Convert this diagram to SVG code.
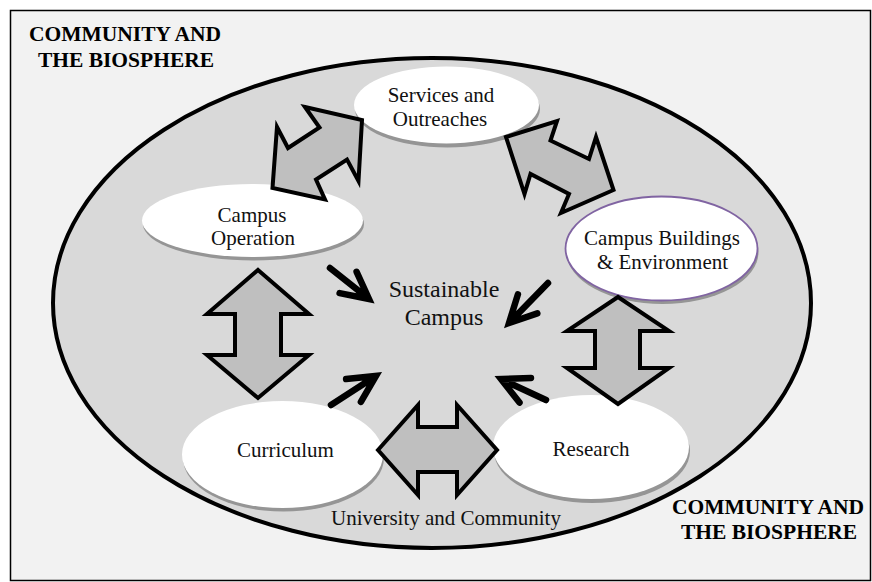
<svg xmlns="http://www.w3.org/2000/svg" width="872" height="582" viewBox="0 0 872 582">
  <style>
    .bg { fill: #f2f2f2; stroke: #000; stroke-width: 1.5; }
    .world { fill: #d9d9d9; stroke: #000; stroke-width: 4; }
    .node { fill: #ffffff; stroke: none; }
    .shadow { fill: #959595; }
    .purple { stroke: #8064a2; stroke-width: 1.8; }
    .block { fill: #bfbfbf; stroke: #000; stroke-width: 4; stroke-linejoin: miter; stroke-miterlimit: 10; }
    .thin { fill: none; stroke: #000; stroke-width: 6.5; stroke-linecap: round; stroke-linejoin: miter; stroke-miterlimit: 10; }
    .label { font-family: "Liberation Serif", "Times New Roman", serif; font-size: 21px; fill: #111; text-anchor: middle; }
    .center { font-family: "Liberation Serif", "Times New Roman", serif; font-size: 24px; fill: #111; text-anchor: middle; }
    .bold { font-family: "Liberation Serif", "Times New Roman", serif; font-size: 21.5px; font-weight: bold; fill: #000; text-anchor: middle; }
  </style>

  <g id="background">
    <rect class="bg" x="10.5" y="10.5" width="860" height="570"/>
    <text class="bold" x="125" y="41">COMMUNITY AND</text>
    <text class="bold" x="126" y="67">THE BIOSPHERE</text>
    <text class="bold" x="768" y="514">COMMUNITY AND</text>
    <text class="bold" x="769" y="539">THE BIOSPHERE</text>
  </g>

  <g id="university-community">
    <ellipse class="world" cx="432" cy="303" rx="379" ry="245"/>
    <text class="label" x="446" y="525">University and Community</text>
  </g>

  <g id="sustainable-campus">
    <text class="center" x="444" y="297">Sustainable</text>
    <text class="center" x="444" y="325">Campus</text>
  </g>

  <g id="services-outreaches">
    <ellipse class="shadow" cx="447.5" cy="109" rx="92.5" ry="38.5"/>
    <ellipse class="node" cx="446.5" cy="105" rx="92.5" ry="38.5"/>
    <text class="label" x="441" y="102">Services and</text>
    <text class="label" x="440" y="126">Outreaches</text>
  </g>

  <g id="campus-operation">
    <ellipse class="shadow" cx="253.5" cy="224" rx="110.5" ry="36.5"/>
    <ellipse class="node" cx="252.5" cy="220.5" rx="110.5" ry="36.5"/>
    <text class="label" x="252" y="222">Campus</text>
    <text class="label" x="253" y="245">Operation</text>
  </g>

  <g id="campus-buildings">
    <ellipse class="shadow" cx="662.5" cy="252" rx="96" ry="52"/>
    <ellipse class="node purple" cx="661.5" cy="248.5" rx="96" ry="52"/>
    <text class="label" x="662" y="245">Campus Buildings</text>
    <text class="label" x="662.5" y="269">&amp; Environment</text>
  </g>

  <g id="curriculum">
    <ellipse class="shadow" cx="283.5" cy="458" rx="100.5" ry="53.5"/>
    <ellipse class="node" cx="282.5" cy="454.5" rx="100.5" ry="53.5"/>
    <text class="label" x="285.5" y="457">Curriculum</text>
  </g>

  <g id="research">
    <ellipse class="shadow" cx="592" cy="451" rx="98" ry="52"/>
    <ellipse class="node" cx="591" cy="447" rx="98" ry="52"/>
    <text class="label" x="591" y="456">Research</text>
  </g>

  <g id="connectors">
    <!-- double block arrows between nodes -->
    <polygon class="block" points="305,107 362,120 358.5,181 347,159.5 316,179.5 325,199.5 272.5,188 277,127 288,148 319.5,127.5"/>
    <polygon class="block" points="506,137 557,121 550.5,140.5 589,159 596,137 613.5,190 561,213 569,194 530.5,174 524.5,194"/>
    <polygon class="block" points="258,270 309,314 281,314 281,355 309,355 258,398 207,355 235,355 235,314 207,314"/>
    <polygon class="block" points="618,297 669,331 640,331 640,368 669,368 618,404 567,368 595,368 595,331 567,331"/>
    <polygon class="block" points="378,450 418,405 418,427 457,427 457,405 497,450 457,495 457,472 418,472 418,495"/>
    <!-- arrows toward the centre -->
    <path class="thin" d="M330,268 L366.5,297 M339.6,293.1 L369,299 L356.6,271.8"/>
    <path class="thin" d="M548,283 L511,321 M517.9,294.4 L509,323 L537.3,313.4"/>
    <path class="thin" d="M331,405 L373.5,377.6 M360.9,401.9 L376,376 L346.1,379.1"/>
    <path class="thin" d="M546,400 L504,380.5 M531,378 L501,379 L519.5,402.6"/>
  </g>
</svg>
